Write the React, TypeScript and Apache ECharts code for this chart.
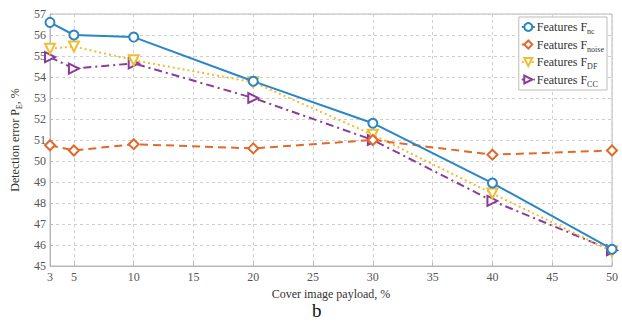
import React, { useEffect, useRef } from "react";
import * as echarts from "echarts";

const payload = [3, 5, 10, 20, 30, 40, 50];
const xTicks = [3, 5, 10, 15, 20, 25, 30, 35, 40, 45, 50];
const fNc = [56.6, 56.0, 55.9, 53.8, 51.8, 48.95, 45.8];
const fNoise = [50.75, 50.5, 50.8, 50.6, 51.0, 50.3, 50.5];
const fDF = [55.35, 55.45, 54.8, 53.75, 51.25, 48.45, 45.7];
const fCC = [54.95, 54.4, 54.65, 53.0, 51.0, 48.1, 45.75];

const seriesNames = ["nc", "noise", "DF", "CC"];
const seriesData = [fNc, fNoise, fDF, fCC];
const colors = ["#2a86c4", "#e06a2c", "#f0bd30", "#8a3c98"];
const symbols = ["emptyCircle", "emptyDiamond", "emptyTriangle", "emptyTriangle"];
const symbolRotate = [0, 0, 180, -90];
const lineTypes: any[] = ["solid", [8, 5], [2, 3], [8, 4, 2, 4]];

const FONT = "'Liberation Serif', 'Times New Roman', serif";

export default function App() {
  const ref = useRef<HTMLDivElement>(null);
  useEffect(() => {
    const chart = echarts.init(ref.current!, null, { renderer: "svg" });
    chart.setOption({
      animation: false,
      textStyle: { fontFamily: FONT },
      grid: {
        left: 50,
        right: 10,
        top: 14,
        bottom: 56,
        show: true,
        borderColor: "#b8b8b8",
        borderWidth: 1,
      },
      legend: {
        right: 15,
        top: 17,
        orient: "vertical",
        backgroundColor: "#fff",
        borderColor: "#bbb",
        borderWidth: 1,
        padding: [4, 3, 2, 2],
        itemGap: 3,
        itemWidth: 13,
        itemHeight: 10,
        data: seriesNames.map((n) => "F_" + n),
        formatter: (name: string) => "Features F{sub|" + name.slice(2) + "}",
        textStyle: {
          fontFamily: FONT,
          fontSize: 12,
          color: "#333",
          padding: [0, 0, 0, -3],
          rich: {
            sub: { fontFamily: FONT, fontSize: 8, color: "#333", padding: [9, 0, 0, 0] },
          },
        },
      },
      xAxis: {
        type: "value",
        min: 3,
        max: 50,
        name: "Cover image payload, %",
        nameLocation: "middle",
        nameGap: 20,
        nameTextStyle: { fontFamily: FONT, fontSize: 12, color: "#333" },
        axisLine: { show: true, lineStyle: { color: "#b8b8b8" } },
        axisTick: { show: true, customValues: xTicks, inside: true, length: 3, lineStyle: { color: "#b8b8b8" } },
        axisLabel: { customValues: xTicks, fontFamily: FONT, fontSize: 12, color: "#555", margin: 5 },
        splitLine: { show: true, lineStyle: { color: "#cfcfcf", type: [3, 3] } },
      },
      yAxis: {
        type: "value",
        min: 45,
        max: 57,
        interval: 1,
        name: "Detection error P{sub|E}, %",
        nameLocation: "middle",
        nameGap: 24,
        nameTextStyle: {
          fontFamily: FONT,
          fontSize: 12,
          color: "#333",
          rich: { sub: { fontFamily: FONT, fontSize: 8, color: "#333", padding: [8, 0, 0, 0] } },
        },
        axisLine: { show: true, lineStyle: { color: "#b8b8b8" } },
        axisTick: { show: true, inside: true, length: 3, lineStyle: { color: "#b8b8b8" } },
        axisLabel: { fontFamily: FONT, fontSize: 12, color: "#555", margin: 4 },
        splitLine: { show: true, lineStyle: { color: "#cfcfcf", type: [3, 3] } },
      },
      graphic: [
        {
          type: "text",
          left: 312,
          top: 301,
          style: { text: "b", font: "19px 'Liberation Serif'", fill: "#111" },
        },
      ],
      series: seriesNames.map((n, i) => ({
        name: "F_" + n,
        type: "line",
        data: payload.map((x, j) => [x, seriesData[i][j]]),
        symbol: symbols[i],
        symbolSize: i === 0 ? 9 : 10,
        symbolRotate: symbolRotate[i],
        showAllSymbol: true,
        color: colors[i],
        itemStyle: { color: colors[i], borderWidth: 2 },
        lineStyle: { color: colors[i], width: 2, type: lineTypes[i] },
        z: 10 - i,
      })),
    });
    return () => chart.dispose();
  }, []);
  return <div ref={ref} style={{ width: 622, height: 322, position: "absolute", left: 0, top: 0 }} />;
}
